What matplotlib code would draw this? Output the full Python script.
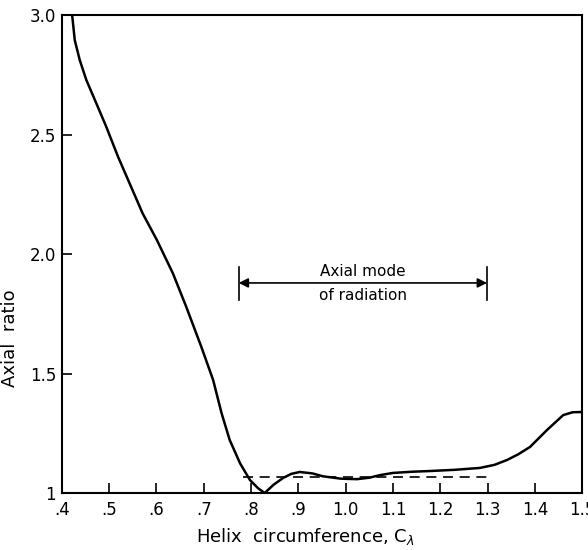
import matplotlib.pyplot as plt

# wartości
circ = [0.422, 0.4275, 0.438, 0.452, 0.473, 0.494, 0.519, 0.571, 0.601, 0.635,
        0.663, 0.695, 0.720, 0.738, 0.755, 0.777, 0.798, 0.815, 0.829, 0.848,
        0.868, 0.885, 0.903, 0.93, 0.952, 0.99, 1.024, 1.05, 1.073, 1.10, 1.14,
        1.178, 1.23, 1.284, 1.315, 1.341, 1.365, 1.39, 1.426, 1.46, 1.48, 1.5]
ratio = [3.0, 2.895, 2.812, 2.728, 2.631, 2.533, 2.407, 2.17, 2.059, 1.919,
         1.780, 1.612, 1.473, 1.333, 1.222, 1.124, 1.054, 1.02, 1.0, 1.035,
         1.063, 1.08, 1.088, 1.082, 1.07, 1.06, 1.058, 1.064, 1.075, 1.084, 1.089,
         1.092, 1.097, 1.105, 1.118, 1.138, 1.162, 1.193, 1.264, 1.326, 1.338, 1.339]

dash_x = [0.783, 1.299]
dash_y = [1.067, 1.067]

xticks = [0.4, 0.5, 0.6, 0.7, 0.8, 0.9, 1.0, 1.1, 1.2, 1.3, 1.4, 1.5]
xlabels = ['.4', '.5', '.6', '.7', '.8', '.9', '1.0', '1.1', '1.2', '1.3', '1.4', '1.5']
yticks = [1.0, 1.5, 2.0, 2.5, 3.0]
ylabels = ['1', '1.5', '2.0', '2.5', '3.0']

fig = plt.figure(figsize=(5.88, 5.5), dpi=100)
ax = fig.add_axes([0.105, 0.1036, 0.885, 0.8691])

ax.plot(circ, ratio, color='black', lw=1.8)
ax.plot(dash_x, dash_y, color='black', lw=1.2, ls=(0, (6, 4)))

# strzałka "tryb osiowy"
ax.annotate('', xy=(0.774, 1.879), xytext=(1.299, 1.879),
            arrowprops=dict(arrowstyle='<|-|>', color='black', lw=1.2,
                            mutation_scale=14, shrinkA=0, shrinkB=0))
ax.plot([0.774, 0.774], [1.808, 1.946], color='black', lw=1.2)
ax.plot([1.299, 1.299], [1.808, 1.946], color='black', lw=1.2)
ax.text(1.037, 1.925, 'Axial mode', ha='center', va='center', fontsize=11)
ax.text(1.037, 1.828, 'of radiation', ha='center', va='center', fontsize=11)

ax.set_xlim(0.4, 1.5)
ax.set_ylim(1.0, 3.0)
ax.set_xticks(xticks)
ax.set_xticklabels(xlabels)
ax.set_yticks(yticks)
ax.set_yticklabels(ylabels)
ax.tick_params(direction='in', length=7, width=1.2, labelsize=12, pad=6)
ax.tick_params(axis='y', pad=4)
for s in ax.spines.values():
    s.set_linewidth(1.5)

ax.set_xlabel(r'Helix  circumference, C$_\lambda$', fontsize=13)
ax.xaxis.set_label_coords(0.467, -0.07)
ax.set_ylabel('Axial  ratio', fontsize=13)
ax.yaxis.set_label_coords(-0.083, 0.324)

fig.savefig('out.png', dpi=100)
